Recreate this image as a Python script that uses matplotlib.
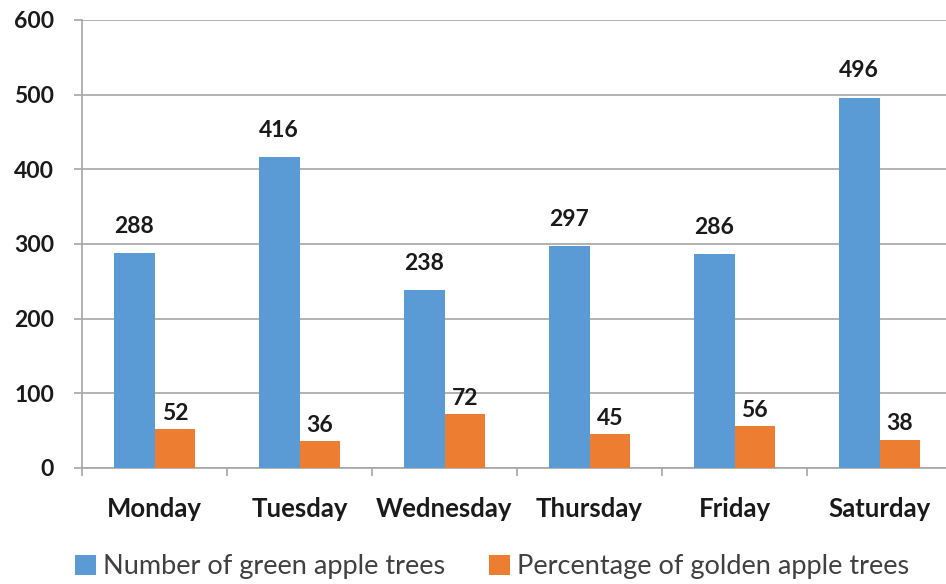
import matplotlib.pyplot as plt
import numpy as np

days = ["Monday", "Tuesday", "Wednesday", "Thursday", "Friday", "Saturday"]
green_trees = [288, 416, 238, 297, 286, 496]
golden_pct = [52, 36, 72, 45, 56, 38]
y_ticks = [0, 100, 200, 300, 400, 500, 600]

BLUE = "#5B9BD5"
ORANGE = "#ED7D31"
GRID = "#A6A6A6"
TEXT = "#1a1a1a"

plt.rcParams["font.family"] = ["Lato", "DejaVu Sans"]

fig = plt.figure(figsize=(9.46, 5.84), dpi=100)
ax = fig.add_axes([82 / 946, 116 / 584, (946 - 82) / 946, (468 - 20) / 584])

x = np.arange(len(days))
w = 0.28
b1 = ax.bar(x - w / 2, green_trees, w, color=BLUE, label="Number of green apple trees", zorder=3)
b2 = ax.bar(x + w / 2, golden_pct, w, color=ORANGE, label="Percentage of golden apple trees", zorder=3)

# value labels: the green-tree ones sit a bit higher above their bars
for rects, vals, off in ((b1, green_trees, 22), (b2, golden_pct, 7)):
    for r, v in zip(rects, vals):
        ax.text(r.get_x() + r.get_width() / 2, v + off, str(v), ha="center", va="bottom",
                fontsize=16.5, fontweight="bold", color=TEXT)

ax.set_ylim(0, 600)
ax.set_yticks(y_ticks)
ax.set_xlim(-0.5, -0.5 + 864 / 145)
ax.yaxis.grid(True, color=GRID, linewidth=1.2, zorder=0)

# category labels centred, tick marks between categories
ax.set_xticks(x)
ax.set_xticklabels(days, fontsize=18.5, fontweight="bold", color=TEXT)
ax.tick_params(axis="x", length=0, pad=21)
ax.set_xticks(np.arange(len(days)) - 0.5, minor=True)
ax.tick_params(axis="x", which="minor", length=6, color=GRID, width=1.2)

for lbl in ax.get_yticklabels():
    lbl.set_fontweight("bold")
ax.tick_params(axis="y", labelsize=16.5, labelcolor=TEXT, length=6, color=GRID, width=1.2, pad=14)

for s in ("top", "right"):
    ax.spines[s].set_visible(False)
for s in ("left", "bottom"):
    ax.spines[s].set_color(GRID)
    ax.spines[s].set_linewidth(1.2)

fig.legend(handles=[b1, b2], loc="lower center", bbox_to_anchor=(0.52, -0.034), ncol=2,
           frameon=False, fontsize=19.5, handlelength=0.8, handleheight=0.8,
           handletextpad=0.25, columnspacing=1.6, labelcolor="#404040")

fig.savefig("out.png", dpi=100)
